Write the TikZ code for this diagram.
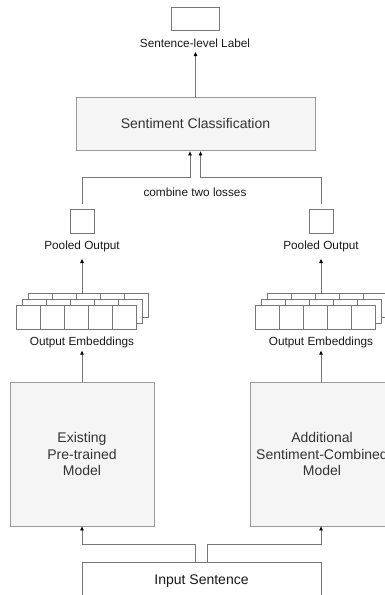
\documentclass[tikz,border=0pt]{standalone}
\usepackage{fontspec}
\setmainfont{Liberation Sans}
\usetikzlibrary{arrows.meta}
\definecolor{edgec}{HTML}{777777}
\definecolor{boxfill}{HTML}{F5F5F5}
\definecolor{boxline}{HTML}{9A9A9A}
\definecolor{txt}{HTML}{333333}
\begin{document}
\begin{tikzpicture}[x=1pt,y=-1pt,
  conn/.style={draw=edgec, line width=0.8pt},
  arr/.style={conn, -{Triangle[length=4pt,width=3.5pt,color=black]}},
  graybox/.style={draw=boxline, fill=boxfill, line width=0.8pt, text=txt,
    font=\fontsize{14}{16.8}\selectfont, align=center, inner sep=0pt},
  plainbox/.style={draw=edgec, fill=white, line width=0.8pt, inner sep=0pt},
  lbl/.style={font=\fontsize{11.8}{14}\selectfont, text=black!90, inner sep=0pt, anchor=base},
  cell/.style={draw=edgec, fill=white, line width=0.8pt, minimum width=24pt,
    minimum height=24pt, inner sep=0pt},
]
\useasboundingbox (0,0) rectangle (385,595);
\clip (0,0) rectangle (385,595);

% top label
\node[plainbox, minimum width=48pt, minimum height=23pt] (lab) at (195,18.5) {};
\node[lbl] (labt) at (195,47.5) {Sentence-level Label};
\coordinate (labin) at (195.5,52);

% sentiment classification
\node[graybox, minimum width=239pt, minimum height=53pt] (sc) at (195.5,123.5) {Sentiment Classification};
\node[lbl] (comb) at (195,196.3) {combine two losses};

% pooled outputs
\node[plainbox, minimum size=24pt] (pl) at (82,221) {};
\node[plainbox, minimum size=24pt] (pr) at (321,221) {};
\node[lbl] (plt) at (82,249.3) {Pooled Output};
\node[lbl] (prt) at (321,249.3) {Pooled Output};
\coordinate (plin) at (82,259);
\coordinate (prin) at (321,259);

% output embeddings stacks
\foreach \r in {2,1,0} {
  \foreach \i in {0,...,4} {
    \node[cell] (eL\r\i) at ({28+6*\r+24*\i},{317-6*\r}) {};
    \node[cell] (eR\r\i) at ({267+6*\r+24*\i},{317-6*\r}) {};
  }
}
\node[lbl] (oel) at (82,345.3) {Output Embeddings};
\node[lbl] (oer) at (321,345.3) {Output Embeddings};
\coordinate (oelin) at (82,350.7);
\coordinate (oerin) at (321,350.7);

% models
\node[graybox, minimum width=144pt, minimum height=144pt] (ml) at (82,454) {Existing\\Pre-trained\\Model};
\node[graybox, minimum width=144pt, minimum height=144pt] (mr) at (322,454) {Additional\\Sentiment-Combined\\Model};

% input
\node[plainbox, minimum width=239pt, minimum height=38.8pt,
  font=\fontsize{14}{16.8}\selectfont, text=black!90] (inp) at (201.5,581.4) {Input Sentence};

% connectors
\draw[arr] (sc.north) -- (labin);
\coordinate (cl) at (82,177);
\coordinate (cr) at (321,177);
\draw[arr, shorten >=1pt] ([yshift=5pt]pl.north) -- (cl) -| ([xshift=-5.5pt]sc.south);
\draw[arr, shorten >=1pt] ([yshift=5pt]pr.north) -- (cr) -| ([xshift=5pt]sc.south);
\draw[arr] (eL22.north -| eL12.north) -- (plin);
\draw[arr] (eR22.north -| eR12.north) -- (prin);
\draw[arr] (ml.north) -- (oelin);
\draw[arr] (ml.north -| oerin) -- (oerin);
\coordinate (jl) at (82,544);
\coordinate (jr) at (321,544);
\draw[arr] ([xshift=-6pt]inp.north) |- (jl) -- (ml.south);
\draw[arr] ([xshift=6pt]inp.north) |- (jr) -- (jr |- mr.south);
\end{tikzpicture}
\end{document}
